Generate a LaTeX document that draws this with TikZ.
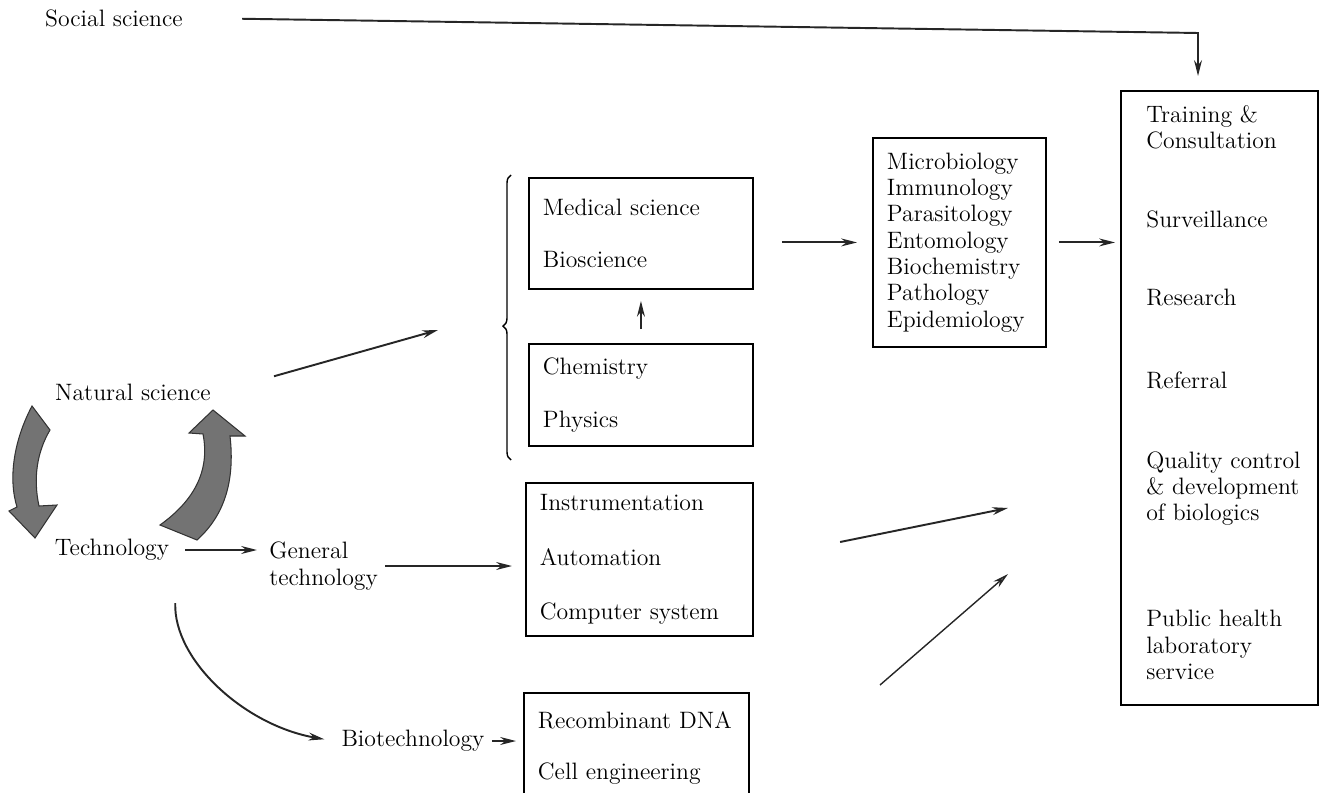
\documentclass[tikz,border=0pt]{standalone}
\usepackage{tikz}
\usetikzlibrary{arrows.meta,decorations.pathreplacing,calc}
\newcommand{\labfont}{\fontsize{13.5}{15}\selectfont}
\tikzset{conn/.style={line width=1.1pt,draw=black!85,-{Stealth[length=9pt,width=4.5pt,fill=black!50]}}}
\tikzset{box/.style={draw,line width=1.1pt,align=left,inner xsep=0.28cm,inner ysep=0pt,anchor=north west,font=\labfont}}
\tikzset{lbl/.style={font=\labfont,inner sep=4pt}}
\tikzset{bigarrow/.style={fill=black!55,draw=black!80,line width=0.6pt}}

\begin{document}
\begin{tikzpicture}[x=0.02cm,y=-0.02cm]
        % Page size of the reference
        \useasboundingbox (0,0) rectangle (1327,793);
        \clip (0,0) rectangle (1327,793);
        % Plain labels
        \node[lbl] (social) at (114,18) {Social science};
        \node[lbl] (natural) at (133,392) {Natural science};
        \node[lbl] (tech) at (112,550) {Technology};
        \node[lbl,anchor=west,align=left] (gen) at (262,566) {General\\technology};
        \node[lbl] (bio) at (413,741) {Biotechnology};
        % Boxes of the middle column
        \node[box,text width=3.92cm,minimum height=2.22cm] (med) at (528,177)
        {Medical science\\[0.53cm]Bioscience};
        \node[box,text width=3.92cm,minimum height=2.04cm] (chem) at (528,343)
        {Chemistry\\[0.53cm]Physics};
        \node[box,text width=3.98cm,minimum height=3.06cm] (instr) at (525,482)
        {Instrumentation\\[0.57cm]Automation\\[0.57cm]Computer system};
        \node[box,text width=3.94cm,minimum height=2.2cm] (bot) at (523,692)
        {Recombinant~DNA\\[0.49cm]Cell engineering};
        % Disciplines
        \node[box,text width=2.9cm,minimum height=4.18cm] (micro) at (872,137)
        {Microbiology\\Immunology\\Parasitology\\Entomology\\Biochemistry\\Pathology\\Epidemiology};
        % Laboratory functions
        \node[box,text width=3.38cm,minimum height=12.28cm] (lab) at (1120,90) {};
        \node[lbl,anchor=west,align=left,inner sep=0pt] (labtxt) at (1146,392.5)
        {Training \&\\Consultation\\[1.05cm]Surveillance\\[1.03cm]Research\\[1.13cm]Referral\\[1.07cm]%
        Quality control\\\& development\\of biologics\\[1.59cm]Public health\\laboratory\\service};
        % Free ends
        \coordinate (sc) at (1198,33);
        \coordinate (nsend) at (438,330);
        \coordinate (q1) at (1008,508);
        \coordinate (q2s) at (880,685);
        \coordinate (q2) at (1008,574);
        \coordinate (bb) at (511,460);
        \coordinate (bt) at (511,175);
        % Cycle between science and technology
        \draw[bigarrow] (32,406) .. controls (14,440) and (8,478) .. (17,507)
        -- (9,511) -- (35,538) -- (57,505) -- (39,506)
        .. controls (33,478) and (37,452) .. (50,430) -- cycle;
        \draw[bigarrow] (160,525) .. controls (195,500) and (210,470) .. (203,434)
        -- (189,433) -- (213,410) -- (245,436) -- (230,436)
        .. controls (235,480) and (225,515) .. (197,540) -- cycle;
        % Brace round the basic sciences
        \draw[line width=0.8pt,decorate,decoration={brace,amplitude=0.16cm,aspect=0.47}] (bb) -- (bt);
        % Connectors
        \draw[conn,shorten <=1.04cm,shorten >=0.28cm] (social.east) -- (sc) -- (sc |- lab.north);
        \draw[conn,shorten <=1.16cm] (natural.east) -- (nsend);
        \draw[conn,shorten <=0.18cm,shorten >=0.1cm] (tech.east) -- (tech.east -| gen.west);
        \draw[conn,shorten >=0.26cm] (gen.east) -- (gen.east -| instr.west);
        \draw[conn,shorten <=0.7cm,shorten >=0.2cm] (tech.south east) to[out=-92,in=170] (bio.west);
        \draw[conn,shorten >=0.14cm] (bio.east) -- (bio.east -| bot.west);
        \draw[conn,shorten <=0.28cm,shorten >=0.22cm] (chem.north) -- (med.south);
        \draw[conn,shorten <=0.56cm,shorten >=0.3cm] (med.east |- micro.west) -- (micro.west);
        \draw[conn,shorten <=0.24cm,shorten >=0.1cm] (micro.east) -- (micro.east -| lab.west);
        \draw[conn,shorten <=1.76cm] (instr.east) -- (q1);
        \draw[conn,line width=0.8pt] (q2s) -- (q2);
    \end{tikzpicture}
\end{document}
